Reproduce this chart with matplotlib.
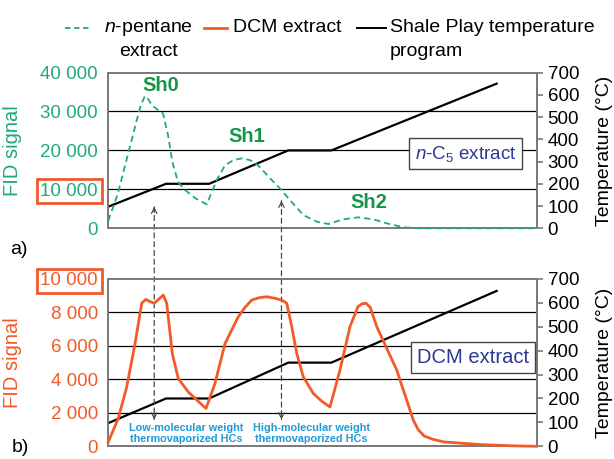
import matplotlib
matplotlib.use("Agg")
import matplotlib.pyplot as plt
from matplotlib.lines import Line2D
from matplotlib.patches import ConnectionPatch

plt.rcParams["font.family"] = ["Liberation Sans", "DejaVu Sans"]
plt.rcParams["mathtext.fontset"] = "custom"
plt.rcParams["mathtext.rm"] = "Liberation Sans"
plt.rcParams["mathtext.it"] = "Liberation Sans:italic"

GREEN = "#1faa7b"
SH_GREEN = "#15974a"
RED = "#f15a29"
NAVY = "#2b3990"
BLUE = "#1e9ad6"
SPINE = "#7a7a7a"

# time (min) and temperature (°C) of the Shale Play program
prog_t = [0, 4.2, 7.3, 13.0, 16.1, 28.0]
prog_temp = [96, 200, 200, 350, 350, 650]

# n-pentane extract, FID signal (top panel)
pent_t = [0.04, 0.74, 1.46, 2.11, 2.40, 2.69, 2.95, 3.19, 3.98, 4.34, 4.65,
          5.06, 5.57, 6.36, 7.13, 7.85, 8.45, 9.05, 9.65, 10.25, 10.82,
          11.81, 12.40, 13.12, 14.08, 15.05, 15.88, 16.96, 18.04, 19.12,
          20.09, 21.28, 22.48, 30.87]
pent_fid = [1900, 9000, 19000, 28000, 31800, 34000, 33000, 31500, 29500,
            24000, 17100, 11900, 9800, 7600, 6150, 12400, 16200, 17500,
            17950, 17500, 16200, 12400, 10250, 7260, 3400, 1700, 1100, 2300,
            2820, 2300, 1280, 260, 0, 0]

# DCM extract, FID signal (bottom panel)
dcm_t = [0.04, 0.76, 1.37, 1.97, 2.45, 2.74, 3.05, 3.35, 3.62, 4.0, 4.25,
         4.65, 5.08, 5.80, 6.50, 7.08, 7.72, 8.45, 9.40, 9.88, 10.37, 10.90,
         11.45, 12.0, 12.53, 12.89, 13.25, 13.61, 14.08, 14.80, 15.40, 16.0,
         16.72, 17.44, 18.02, 18.31, 18.60, 18.90, 19.37, 20.09, 20.81,
         21.53, 22.0, 22.35, 22.77, 23.40, 24.21, 26.85, 29.25, 30.87]
dcm_fid = [260, 1660, 3550, 6150, 8550, 8780, 8650, 8550, 8750, 9040, 8550,
           5550, 4050, 3250, 2700, 2260, 3750, 6150, 7740, 8300, 8740, 8880,
           8940, 8850, 8740, 8550, 7150, 5550, 4150, 3160, 2700, 2350, 4550,
           7150, 8350, 8520, 8550, 8300, 7150, 5850, 4550, 2750, 1560, 1000,
           620, 420, 260, 100, 25, 0]

top_ticks = [0, 10000, 20000, 30000, 40000]
top_labels = ["0", "10 000", "20 000", "30 000", "40 000"]
bot_ticks = [0, 2000, 4000, 6000, 8000, 10000]
bot_labels = ["0", "2 000", "4 000", "6 000", "8 000", "10 000"]
temp_ticks = list(range(0, 701, 100))

# arrow positions (min) and tips
arrow_t = [3.35, 12.51]
arrow_top_tip = [5540, 7080]
arrow_bot_tip = 1600

T_MAX = 30.87
FS = 13.5

fig = plt.figure(figsize=(6.14, 4.59), dpi=100)
ax_top = fig.add_axes([0.1754, 0.5026, 0.6984, 0.3394])
ax_bot = fig.add_axes([0.1754, 0.0277, 0.6984, 0.3645])


def setup(ax, ticks, labels, ymax, color, boxed):
    tw = ax.twinx()
    ax.set_zorder(tw.get_zorder() + 1)
    ax.patch.set_visible(False)
    ax.set_xlim(0, T_MAX)
    ax.set_ylim(0, ymax)
    ax.set_xticks([])
    ax.set_yticks(ticks, labels)
    ax.tick_params(axis="y", length=0, pad=7, labelsize=FS, labelcolor=color)
    for y in ticks[1:-1]:
        tw.axhline(y / ymax * 700, color="black", lw=0.9, zorder=1)
    tw.set_ylim(0, 700)
    tw.set_yticks(temp_ticks)
    tw.tick_params(axis="y", direction="out", length=4, color=SPINE,
                   width=1.2, pad=4, labelsize=FS)
    for a in (ax, tw):
        for s in a.spines.values():
            s.set_color(SPINE)
            s.set_linewidth(1.3)
    tw.plot(prog_t, prog_temp, color="black", lw=1.6, zorder=3)
    tw.set_ylabel("Temperature (°C)", fontsize=FS + 0.5, labelpad=12)
    ax.set_ylabel("FID signal", fontsize=FS + 1, color=color, labelpad=13)
    lab = ax.get_yticklabels()[labels.index(boxed)]
    lab.set_bbox(dict(facecolor="none", edgecolor=RED, lw=2, pad=2.5))
    return tw


tw_top = setup(ax_top, top_ticks, top_labels, 40000, GREEN, "10 000")
tw_bot = setup(ax_bot, bot_ticks, bot_labels, 10000, RED, "10 000")

ax_top.plot(pent_t, pent_fid, color=GREEN, lw=1.3, ls=(0, (3.5, 2.2)),
            zorder=4, clip_on=False)
ax_bot.plot(dcm_t, dcm_fid, color=RED, lw=2.0, zorder=4, clip_on=False)

for name, t, v in [("Sh0", 3.84, 36560), ("Sh1", 10.0, 23490),
                   ("Sh2", 18.83, 6560)]:
    ax_top.text(t, v, name, color=SH_GREEN, fontsize=14.5, fontweight="bold",
                ha="center", va="center", zorder=6)

box = dict(facecolor="white", edgecolor="#444444", lw=1, pad=4)
ax_top.text(25.74, 19180, r"$n$-C$_5$ extract", color=NAVY, fontsize=FS,
            ha="center", va="center", bbox=box, zorder=6)
ax_bot.text(26.3, 5300, "DCM extract", color=NAVY, fontsize=FS + 1,
            ha="center", va="center", bbox=box, zorder=6)

for t, tip in zip(arrow_t, arrow_top_tip):
    con = ConnectionPatch(xyA=(t, tip), coordsA=ax_top.transData,
                          xyB=(t, arrow_bot_tip), coordsB=ax_bot.transData,
                          color="#444444", lw=0.9, ls=(0, (4, 3)))
    fig.add_artist(con)
    ax_top.annotate("", xy=(t, tip), xytext=(t, tip - 1500),
                    arrowprops=dict(arrowstyle="->", color="#444444", lw=0.8,
                                    shrinkA=0, shrinkB=0))
    ax_bot.annotate("", xy=(t, arrow_bot_tip), xytext=(t, arrow_bot_tip + 400),
                    arrowprops=dict(arrowstyle="->", color="#444444", lw=0.8,
                                    shrinkA=0, shrinkB=0))

for t, txt in [(5.64, "Low-molecular weight\nthermovaporized HCs"),
               (14.64, "High-molecular weight\nthermovaporized HCs")]:
    ax_bot.text(t, 760, txt, color=BLUE, fontsize=7.8, fontweight="bold",
                ha="center", va="center", linespacing=1.2, zorder=6)

# legend drawn by hand at the top
fy1 = 1 - 28 / 459
fy2 = 1 - 52 / 459
for x0, x1, c, ls, lw in [(65, 91, GREEN, (0, (3, 2)), 1.3),
                          (204, 227, RED, "-", 2.0),
                          (357, 386, "black", "-", 1.4)]:
    fig.add_artist(Line2D([x0 / 614, x1 / 614], [fy1, fy1], color=c, ls=ls,
                          lw=lw))
fig.text(148 / 614, fy1, r"$n$-pentane", fontsize=FS + 0.5, ha="center",
         va="center")
fig.text(148 / 614, fy2, "extract", fontsize=FS + 0.5, ha="center",
         va="center")
fig.text(233 / 614, fy1, "DCM extract", fontsize=FS + 0.5, va="center")
fig.text(390 / 614, fy1, "Shale Play temperature", fontsize=FS + 0.5,
         va="center")
fig.text(390 / 614, fy2, "program", fontsize=FS + 0.5, va="center")

fig.text(10 / 614, 1 - 250 / 459, "a)", fontsize=FS + 0.5, va="center")
fig.text(12 / 614, 1 - 448 / 459, "b)", fontsize=FS + 0.5, va="center")

fig.savefig("out.png", dpi=100)
